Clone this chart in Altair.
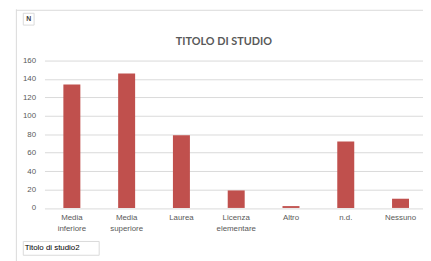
import altair as alt
import pandas as pd

categories = ["Media|inferiore", "Media|superiore", "Laurea", "Licenza|elementare", "Altro", "n.d.", "Nessuno"]
values = [134, 146, 79, 19, 2, 72, 10]
y_ticks = [0, 20, 40, 60, 80, 100, 120, 140, 160]
title_text = "TITOLO DI STUDIO"
field_button_top = "N"
field_button_bottom = "Titolo di studio2"

df = pd.DataFrame({"cat": categories, "val": values})
one = pd.DataFrame({"a": [0]})

GRAY = "#595959"
FONT = "Liberation Sans"

bars = alt.Chart(df).mark_bar(color="#c0504d").encode(
    x=alt.X("cat:N", sort=categories,
            scale=alt.Scale(range=[0, 389], paddingInner=0.69, paddingOuter=0.345),
            axis=alt.Axis(title=None, domain=False, ticks=False, labelAngle=0,
                          labelExpr="split(datum.label, '|')", labelFont=FONT,
                          labelFontSize=8, labelColor=GRAY, labelPadding=6,
                          labelLineHeight=11, labelBaseline="top")),
    y=alt.Y("val:Q", scale=alt.Scale(domain=[0, 160], nice=False),
            axis=alt.Axis(title=None, values=y_ticks, domain=False, ticks=False,
                          labelFont=FONT, labelFontSize=8, labelColor=GRAY,
                          labelPadding=9, gridColor="#d9d9d9", gridWidth=1)),
)

border_left = alt.Chart(one).mark_rule(color="#d9d9d9", strokeWidth=1).encode(
    x=alt.value(-28.5), y=alt.value(-52), y2=alt.value(205))
border_top = alt.Chart(one).mark_rule(color="#d9d9d9", strokeWidth=1).encode(
    x=alt.value(-28.5), x2=alt.value(400), y=alt.value(-51))

title = alt.Chart(one).mark_text(font="Lato", fontSize=11, fontWeight="bold", color=GRAY,
                                 align="center", baseline="middle").encode(
    x=alt.value(182), y=alt.value(-18.5), text=alt.value(title_text))

n_box = alt.Chart(one).mark_rect(fill="white", stroke="#d9d9d9", strokeWidth=1).encode(
    x=alt.value(-21.5), x2=alt.value(-10.5), y=alt.value(-48), y2=alt.value(-36))
n_text = alt.Chart(one).mark_text(font=FONT, fontSize=7, fontWeight="bold", color="#404040",
                                  align="center", baseline="middle").encode(
    x=alt.value(-16), y=alt.value(-42), text=alt.value(field_button_top))

b_box = alt.Chart(one).mark_rect(fill="white", stroke="#d9d9d9", strokeWidth=1).encode(
    x=alt.value(-21.5), x2=alt.value(55.5), y=alt.value(183.5), y2=alt.value(197.5))
b_text = alt.Chart(one).mark_text(font=FONT, fontSize=8, color="black",
                                  align="left", baseline="middle").encode(
    x=alt.value(-20), y=alt.value(190.5), text=alt.value(field_button_bottom))

chart = alt.layer(border_left, border_top, bars, title, n_box, n_text, b_box, b_text).properties(
    width=384, height=149.5,
    autosize=alt.AutoSizeParams(type="none"),
    padding={"left": 37, "top": 51.5, "right": 0, "bottom": 52},
).configure_view(stroke=None)

chart.save("out.html", embed_options={"renderer": "svg", "actions": False})
